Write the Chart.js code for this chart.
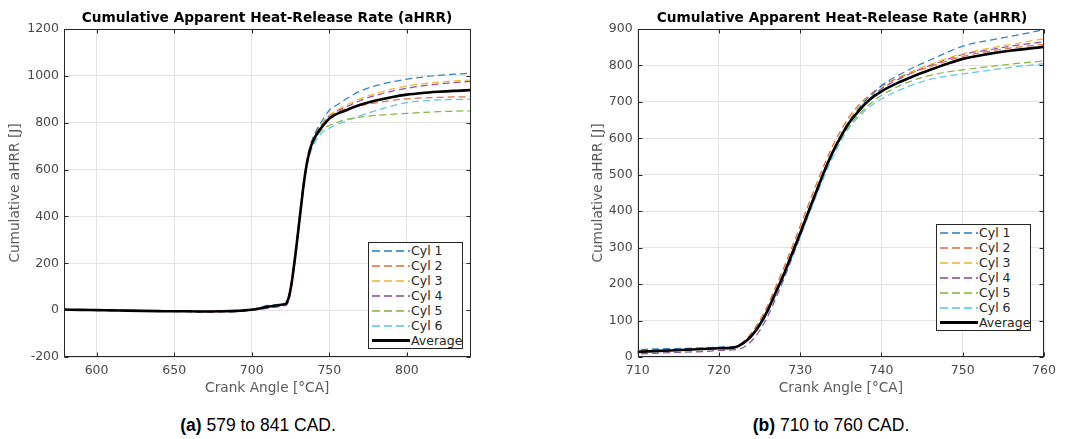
<!DOCTYPE html>
<html><head><meta charset="utf-8">
<script src="https://cdn.jsdelivr.net/npm/chart.js@4.4.0/dist/chart.umd.min.js"></script>
<style>
body{margin:0;background:#fff;width:1071px;height:439px;overflow:hidden;position:relative;font-family:"DejaVu Sans",sans-serif;}
canvas{position:absolute;top:0}
.title{position:absolute;top:9px;height:16px;line-height:16px;font:bold 13.7px "DejaVu Sans";color:#000;text-align:center;white-space:nowrap}
.caption{position:absolute;top:415px;line-height:20px;font:17.5px "Liberation Sans",Arial,sans-serif;color:#000;text-align:center;white-space:nowrap}
.legend{position:absolute;background:#fff;border:1px solid #262626;font:12.5px "DejaVu Sans";color:#262626;padding:0 2px 0 3px;box-sizing:border-box}
.legend .row{height:15px;display:flex;align-items:center;white-space:nowrap}
.legend .smp{width:38px;margin-right:1px;flex:none}
</style></head>
<body>
<canvas id="c1" width="535" height="400" style="left:0"></canvas>
<canvas id="c2" width="535" height="400" style="left:536px"></canvas>
<div class="title" style="left:67px;width:400px">Cumulative Apparent Heat-Release Rate (aHRR)</div>
<div class="title" style="left:642px;width:400px">Cumulative Apparent Heat-Release Rate (aHRR)</div>
<div class="caption" style="left:158px;width:200px"><b>(a)</b> 579 to 841 CAD.</div>
<div class="caption" style="left:731px;width:200px"><b>(b)</b> 710 to 760 CAD.</div>
<div class="legend" id="lg1" style="left:368px;top:242px;width:95px"></div>
<div class="legend" id="lg2" style="left:936px;top:224px;width:95px"></div>
<script>
const crankAngle = [579,590,600,610,620,630,640,650,660,670,680,690,700,705,710,714,718,720,722,723,724,725,726,727,728,729,730,731,732,733,734,735,736,737,738,739,740,742,744,746,748,750,753,756,760,765,770,780,790,800,810,820,830,841];
const cyl1 = [3,2,1,0,-1,-2,-3,-4,-4,-5,-4,-2,4,10,20,23,25,27,29,40,60,90,130,180,230,286,342,400,457,514,564,607,645,676,703,724,745,772,795,815,835,853,868,880,898,918,935,958,974,986,995,1002,1007,1011];
const cyl2 = [2,1,0,-1,-2,-3,-4,-5,-6,-7,-6,-4,1,6,16,19,22,24,28,42,66,100,142,194,246,302,360,418,475,530,580,622,658,686,709,727,743,765,782,797,812,825,838,848,858,866,873,885,895,902,906,908,910,911];
const cyl3 = [2,1,0,-1,-2,-3,-4,-5,-6,-6,-5,-3,2,7,15,19,22,24,27,40,62,94,135,186,237,292,349,406,463,519,569,612,650,680,705,725,742,766,786,803,819,832,846,858,873,888,903,925,943,957,966,973,978,982];
const cyl4 = [1,0,-1,-2,-3,-4,-5,-6,-7,-8,-8,-6,0,4,8,12,15,18,20,26,44,72,112,162,214,272,330,390,448,506,558,602,640,670,697,718,736,761,782,800,816,830,842,853,865,880,895,917,934,947,957,965,971,976];
const cyl5 = [2,1,0,-1,-2,-3,-4,-5,-5,-6,-5,-3,2,7,14,18,22,24,27,38,58,88,128,178,228,284,340,398,455,512,560,600,634,660,683,702,718,742,760,773,782,788,796,804,812,819,824,831,836,840,844,847,849,851];
const cyl6 = [2,1,0,-1,-2,-3,-4,-5,-5,-6,-5,-3,3,9,19,22,24,26,28,37,56,84,122,170,220,275,330,387,443,498,548,592,628,655,677,694,708,730,748,762,771,777,786,795,805,818,830,852,871,886,893,897,899,901];
const average = [2,1,0,-1,-2,-3,-4,-5,-5,-6,-5,-3,2,7,14,18,22,24,27,38,58,88,128,178,228,284,340,398,455,512,562,605,642,670,695,714,729,752,771,788,804,818,831,841,851,865,877,895,909,920,927,932,936,939];

const seriesLabels = ['Cyl 1','Cyl 2','Cyl 3','Cyl 4','Cyl 5','Cyl 6','Average'];
const seriesColors = ['#2f84c4','#dc7448','#ecb73c','#8e4f9e','#86b646','#62c4ec','#000000'];
const seriesValues = [cyl1,cyl2,cyl3,cyl4,cyl5,cyl6,average];

function makeDatasets(){
  return seriesValues.map((vals,i)=>{
    const isAvg = i===6;
    return {
      label: seriesLabels[i],
      data: crankAngle.map((x,j)=>({x:x,y:vals[j]})),
      borderColor: seriesColors[i],
      borderWidth: isAvg?2.6:1.25,
      borderDash: isAvg?[]:[7,4],
      pointRadius:0,
      cubicInterpolationMode:'monotone',
      fill:false,
      order: isAvg?0:1
    };
  });
}

const framePlugin = {
  id:'frame',
  afterDatasetsDraw(chart){
    const {ctx, chartArea:a, scales:{x,y}} = chart;
    ctx.save();
    ctx.strokeStyle='#262626'; ctx.lineWidth=1;
    const L=Math.round(a.left)+0.5, T=Math.round(a.top)+0.5, R=Math.round(a.right)-0.5, B=Math.round(a.bottom)-0.5;
    ctx.strokeRect(L,T,R-L,B-T);
    ctx.beginPath();
    x.ticks.forEach(t=>{const p=Math.round(x.getPixelForValue(t.value))+0.5; ctx.moveTo(p,B); ctx.lineTo(p,B-4); ctx.moveTo(p,T); ctx.lineTo(p,T+4);});
    y.ticks.forEach(t=>{const p=Math.round(y.getPixelForValue(t.value))+0.5; ctx.moveTo(L,p); ctx.lineTo(L+4,p); ctx.moveTo(R,p); ctx.lineTo(R-4,p);});
    ctx.stroke();
    ctx.restore();
  }
};

const tickFont = {family:'DejaVu Sans', size:12.5};
const titleFont = {family:'DejaVu Sans', size:13.7};
const plain = v => String(v);

function makeChart(id, xmin, xmax, xstep, ymin, ymax, ystep, pad, yWidth){
  return new Chart(document.getElementById(id), {
    type:'line',
    data:{datasets: makeDatasets()},
    plugins:[framePlugin],
    options:{
      responsive:false, animation:false, devicePixelRatio:1,
      layout:{padding:pad},
      plugins:{legend:{display:false}, title:{display:false}, tooltip:{enabled:false}},
      scales:{
        x:{type:'linear', min:xmin, max:xmax,
           ticks:{stepSize:xstep, includeBounds:false, font:tickFont, color:'#484848', padding:6, maxRotation:0, autoSkip:false, callback:plain},
           grid:{color:'#e3e3e3', drawTicks:false}, border:{display:false},
           title:{display:true, text:'Crank Angle [°CA]', font:titleFont, color:'#5a5a5a', padding:{top:0,bottom:3}},
           afterFit(s){ s.height = 43; }
        },
        y:{type:'linear', min:ymin, max:ymax,
           ticks:{stepSize:ystep, font:tickFont, color:'#484848', padding:5, callback:plain},
           grid:{color:'#e3e3e3', drawTicks:false}, border:{display:false},
           title:{display:true, text:'Cumulative aHRR [J]', font:titleFont, color:'#5a5a5a', padding:{top:pad.yTitle,bottom:0}},
           afterFit(s){ s.width = yWidth; }
        }
      }
    }
  });
}

makeChart('c1', 579, 841, 50, -200, 1200, 200, {left:0, top:29, right:64.5, bottom:0, yTitle:7.3}, 64);
makeChart('c2', 710, 760, 10, 0, 900, 100, {left:46, top:29, right:27, bottom:0, yTitle:7.8}, 55.7);

function buildLegend(id){
  const el = document.getElementById(id);
  seriesLabels.forEach((lab,i)=>{
    const row = document.createElement('div'); row.className='row';
    const isAvg = i===6;
    const smp = document.createElement('div'); smp.className='smp';
    if (isAvg) { smp.style.height='3px'; smp.style.background=seriesColors[i]; }
    else { smp.style.height='2px'; smp.style.opacity='0.8'; smp.style.background='repeating-linear-gradient(to right,'+seriesColors[i]+' 0 8px,transparent 8px 12px)'; }
    const sp = document.createElement('span'); sp.textContent = lab;
    row.appendChild(smp); row.appendChild(sp);
    el.appendChild(row);
  });
}
buildLegend('lg1'); buildLegend('lg2');
</script>
</body></html>
